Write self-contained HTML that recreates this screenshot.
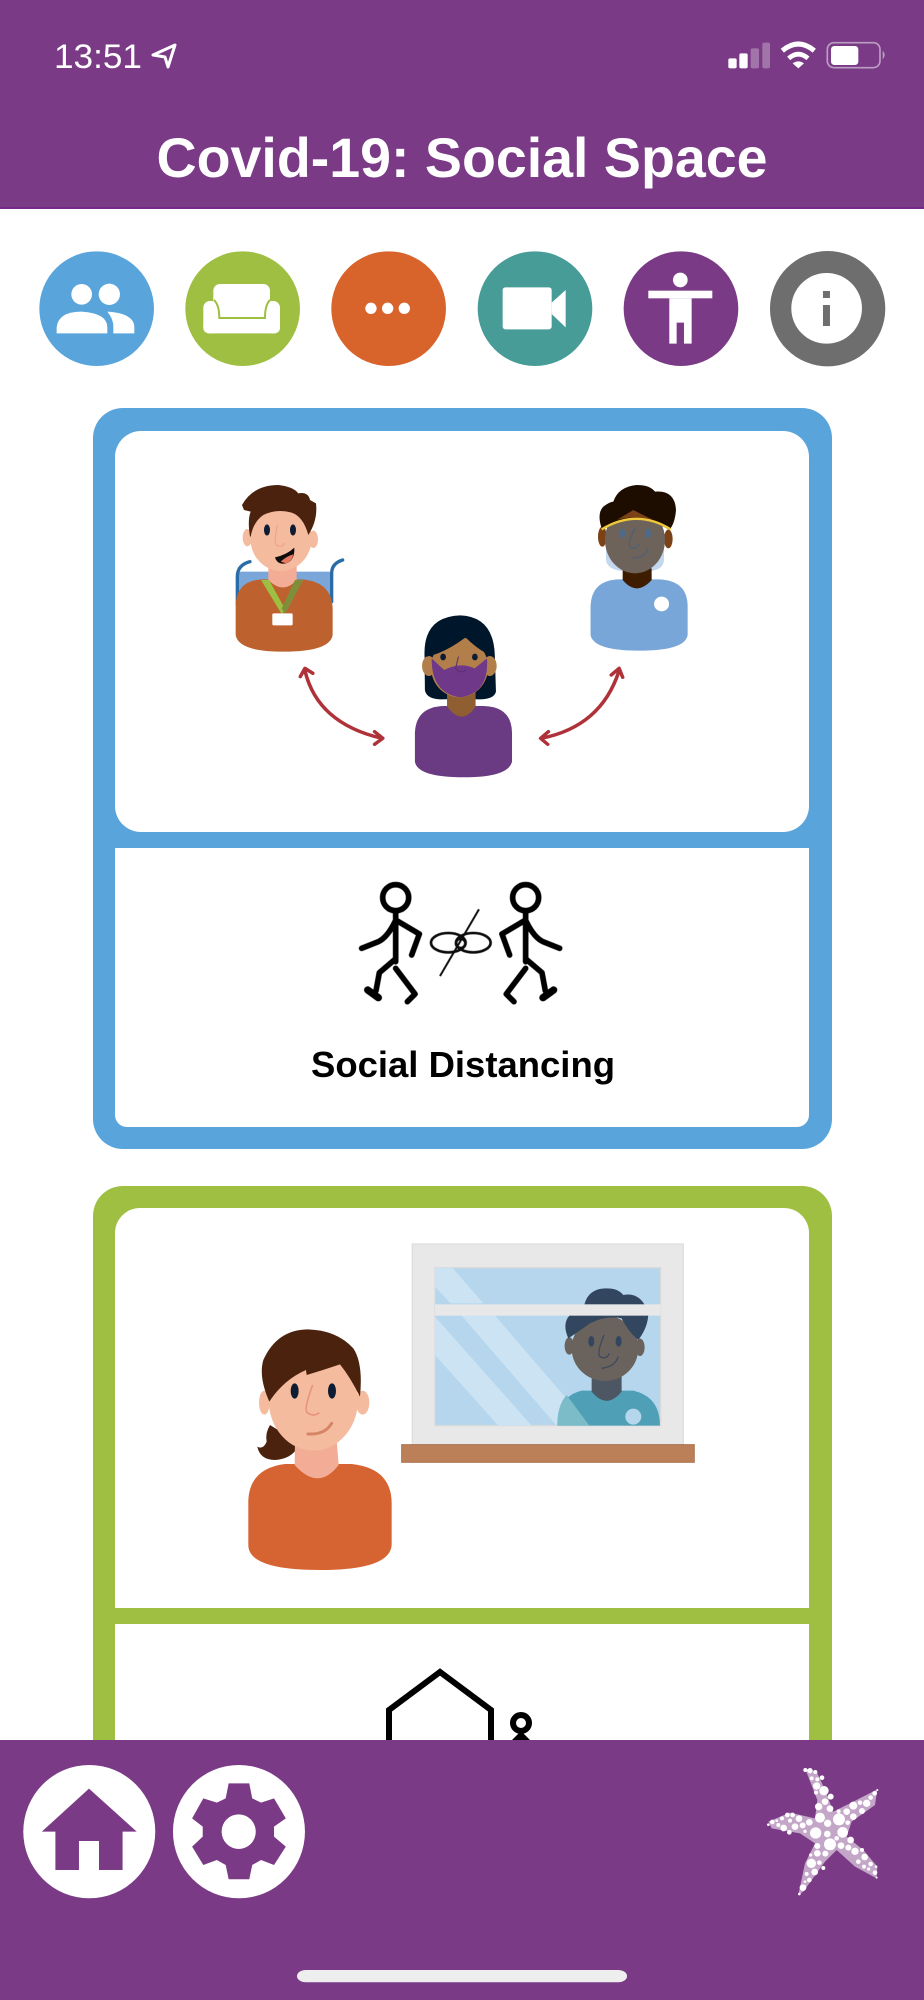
<!DOCTYPE html>
<html lang="en"><head><meta charset="utf-8"><title>Covid-19: Social Space</title>
<style>html,body{margin:0;padding:0;background:#fff;width:924px;height:2000px;overflow:hidden}svg{display:block}text{font-family:"Liberation Sans",sans-serif}</style></head>
<body>
<svg width="924" height="2000" viewBox="0 0 924 2000" xmlns="http://www.w3.org/2000/svg">
<defs><filter id="b" x="-5%" y="-5%" width="110%" height="110%"><feGaussianBlur stdDeviation="0.6"/></filter></defs>
<rect width="924" height="2000" fill="#fff"/>

<!-- Cards -->
<rect x="93" y="408" width="739" height="741" rx="30" fill="#59A5DB"/>
<rect x="115" y="431" width="694" height="401" rx="26" fill="#fff"/>
<path d="M115 848H809V1115a12 12 0 0 1-12 12H127a12 12 0 0 1-12-12Z" fill="#fff"/>
<path d="M93 1216a30 30 0 0 1 30-30H802a30 30 0 0 1 30 30V1760H93Z" fill="#9FBF42"/>
<path d="M115 1233a25 25 0 0 1 25-25H784a25 25 0 0 1 25 25V1608H115Z" fill="#fff"/>
<rect x="115" y="1624" width="694" height="130" fill="#fff"/>

<!-- Man in wheelchair -->
<g transform="translate(220 470) scale(.3333)" filter="url(#b)">
<rect x="55" y="305" width="280" height="100" rx="8" fill="#7AA6D9"/>
<path d="M90 275Q52 285 52 320V405M368 270Q335 280 335 310V395" fill="none" stroke="#2B6CA8" stroke-width="10" stroke-linecap="round"/>
<path d="M47 410Q47 330 130 328H245Q338 335 338 420V495Q330 545 190 545Q55 545 47 495Z" fill="#BD622D"/>
<path d="M145 285H230V330Q190 375 145 330Z" fill="#F3AC96"/>
<path d="M123 330H147L197 420L185 432Z" fill="#9DBF42"/><path d="M250 330H225L185 415L195 432Z" fill="#7F8E3A"/>
<rect x="157" y="430" width="61" height="36" rx="4" fill="#fff"/>
<ellipse cx="82" cy="203" rx="14" ry="26" fill="#F5BB9E"/><ellipse cx="280" cy="208" rx="14" ry="26" fill="#F5BB9E"/>
<ellipse cx="183" cy="205" rx="92" ry="98" fill="#F5BB9E"/>
<path d="M90 200Q82 150 92 125L72 120L66 105Q100 45 175 45Q220 50 235 70Q265 65 270 90L288 100Q294 150 265 195Q250 140 215 128Q170 115 130 135Q100 155 92 200Z" fill="#4B2310"/>
<ellipse cx="141" cy="180" rx="9" ry="17" fill="#0D1A33"/><ellipse cx="219" cy="180" rx="9" ry="17" fill="#0D1A33"/>
<path d="M173 165Q160 215 170 225Q185 235 195 218" fill="none" stroke="#EFA58D" stroke-width="4"/>
<path d="M165 262Q200 255 223 233Q225 272 198 280Q172 285 165 262Z" fill="#0C0C0C"/><path d="M182 275Q200 258 220 253Q218 272 198 280Z" fill="#E8785F"/>
</g>

<!-- Woman in mask, arrows -->
<g transform="translate(180 460) scale(.357 .3333)" filter="url(#b)">
<path d="M685 590Q680 470 785 466Q880 470 882 590L885 695Q880 720 830 718H740Q690 720 686 690Z" fill="#04152B"/>
<path d="M658 820Q660 740 740 738H850Q930 740 930 820V905Q920 952 795 952Q665 952 658 905Z" fill="#6B3A83"/>
<path d="M748 680H828V740Q790 800 748 740Z" fill="#8F5F33"/>
<ellipse cx="697" cy="618" rx="19" ry="30" fill="#B27F4B"/><ellipse cx="868" cy="618" rx="19" ry="30" fill="#B27F4B"/>
<ellipse cx="783" cy="622" rx="80" ry="90" fill="#B27F4B"/>
<path d="M690 590Q740 580 800 532Q840 575 880 590Q880 480 785 470Q690 480 690 590Z" fill="#04152B"/>
<path d="M705 595L740 630Q785 605 825 625L860 595Q866 700 785 712Q704 700 705 595Z" fill="#6F3888"/>
<ellipse cx="737" cy="591" rx="8" ry="10" fill="#0D1A33"/><ellipse cx="826" cy="591" rx="8" ry="10" fill="#0D1A33"/>
<path d="M780 590L772 625Q785 645 802 628" fill="none" stroke="#5D2F70" stroke-width="3"/>

<path d="M1150 440Q1152 360 1230 358H1340Q1422 360 1422 440V525Q1415 572 1287 572Q1158 572 1150 525Z" fill="#78A6D8"/>
<ellipse cx="1349" cy="432" rx="21" ry="22" fill="#fff"/>

<g fill="none" stroke="#AE3037" stroke-width="10" stroke-linecap="round" stroke-linejoin="round">
<path d="M350 632Q385 790 565 835"/><path d="M337 650L350 625L372 640"/><path d="M545 815L568 835L545 853"/>
<path d="M1230 632Q1180 800 1012 835"/><path d="M1208 645L1230 625L1240 652"/><path d="M1032 815L1010 835L1030 853"/>
</g>
</g>

<!-- Person with face shield -->
<g transform="translate(580 470) scale(.3333)" filter="url(#b)">
<path d="M78 180V270Q82 300 130 303H210Q250 300 252 270V180Z" fill="#C3D7EE"/>
<path d="M128 295H215V330Q170 380 128 330Z" fill="#3E1F05"/>
<ellipse cx="67" cy="200" rx="13" ry="30" fill="#7A4212"/><ellipse cx="265" cy="207" rx="13" ry="28" fill="#7A4212"/>
<ellipse cx="165" cy="210" rx="90" ry="100" fill="#6E635A"/>
<path d="M65 175Q50 130 70 110Q90 95 100 95Q115 50 170 45Q210 45 225 65Q285 60 288 120Q285 160 268 180Q170 120 65 175Z" fill="#1E0A00"/>
<path d="M110 150L160 120L220 150Q165 135 110 150Z" fill="#7A4212"/>
<path d="M65 178Q170 115 272 178" fill="none" stroke="#F0C93A" stroke-width="7"/>
<ellipse cx="128" cy="190" rx="8" ry="15" fill="#4D6A8C"/><ellipse cx="205" cy="190" rx="8" ry="15" fill="#4D6A8C"/>
<path d="M165 175Q140 220 152 232Q172 240 178 220M158 265Q195 262 205 235" fill="none" stroke="#4F5F74" stroke-width="4"/>
</g>

<!-- Social distancing symbol -->
<g transform="translate(300 860) scale(.3333)" filter="url(#b)">
<g fill="none" stroke="#000" stroke-width="17" stroke-linejoin="round" stroke-linecap="round">
<circle cx="287" cy="113" r="39"/>
<path d="M287 160V305M285 185Q262 232 235 245L185 265M287 180L358 222L335 285M285 298L238 338L228 392M287 325L345 402L322 425"/>
<path d="M203 390L235 413" stroke-width="22"/>
</g>
<g transform="translate(964 0) scale(-1 1)" fill="none" stroke="#000" stroke-width="17" stroke-linejoin="round" stroke-linecap="round">
<circle cx="287" cy="113" r="39"/>
<path d="M287 160V305M285 185Q262 232 235 245L185 265M287 180L358 222L335 285M285 298L238 338L228 392M287 325L345 402L322 425"/>
<path d="M203 390L235 413" stroke-width="22"/>
</g>
<g fill="none" stroke="#111" stroke-width="8"><ellipse cx="445" cy="248" rx="52" ry="29"/><ellipse cx="520" cy="248" rx="52" ry="29"/><circle cx="482" cy="250" r="14"/></g>
<path d="M537 148L420 348" stroke="#111" stroke-width="6"/>
</g>
<text x="311" y="1077" font-size="36" font-weight="700" textLength="304" lengthAdjust="spacingAndGlyphs" fill="#000">Social Distancing</text>

<!-- Second card illustration -->
<g transform="translate(220 1220) scale(.3333)" filter="url(#b)">
<rect x="577" y="72" width="813" height="602" fill="#E8E8E8" stroke="#DEDEDE" stroke-width="4"/>
<rect x="645" y="143" width="677" height="474" fill="#B5D6ED" stroke="#DADADA" stroke-width="4"/>
<path d="M645 143H697L790 250H692L645 200Z" fill="#CCE3F3"/>
<path d="M725 287H825L1110 617H1010Z" fill="#CCE3F3"/>
<path d="M645 290L935 617H835L645 405Z" fill="#CCE3F3"/>
<path d="M1012 617Q1012 530 1085 512H1240Q1320 530 1320 617Z" fill="#4FA0B6"/>
<path d="M1012 617Q1012 555 1040 525L1108 617Z" fill="#7BBCC8"/>
<ellipse cx="1240" cy="590" rx="24" ry="24" fill="#B5D6ED"/>
<path d="M1115 470H1205V515Q1160 570 1115 515Z" fill="#4D5763"/>
<ellipse cx="1048" cy="378" rx="14" ry="26" fill="#6B625C"/><ellipse cx="1260" cy="382" rx="14" ry="26" fill="#6B625C"/>
<ellipse cx="1155" cy="385" rx="100" ry="98" fill="#6B625C"/>
<path d="M1045 355Q1025 310 1050 285H1090Q1090 205 1160 205Q1195 205 1210 225Q1265 215 1285 280Q1285 320 1255 360Q1225 335 1205 295Q1160 285 1110 310Q1075 335 1045 355Z" fill="#31465F"/>
<ellipse cx="1114" cy="364" rx="9" ry="16" fill="#31465F"/><ellipse cx="1196" cy="364" rx="9" ry="16" fill="#31465F"/>
<path d="M1152 345Q1130 400 1140 410Q1160 420 1168 400M1145 445Q1185 440 1195 410" fill="none" stroke="#3D4A5B" stroke-width="4"/>
<rect x="645" y="253" width="677" height="34" fill="#E8E8E8"/>
<rect x="545" y="674" width="878" height="53" fill="#BB8058" stroke="#A9714E" stroke-width="3"/>

<path d="M150 615Q135 640 140 665Q130 690 112 680Q120 720 165 720Q210 718 232 685L190 640Z" fill="#4B2310"/>
<ellipse cx="133" cy="548" rx="16" ry="36" fill="#F5BB9E"/><ellipse cx="428" cy="548" rx="20" ry="36" fill="#F5BB9E"/>
<path d="M85 840Q90 745 195 732H395Q515 745 515 850V975Q510 1050 300 1050Q85 1050 85 975Z" fill="#D66430"/>
<path d="M224 735Q295 815 356 735L350 660H225Z" fill="#F3AC96"/>
<ellipse cx="280" cy="540" rx="134" ry="152" fill="#F5BB9E"/>
<path d="M148 545Q115 470 130 420Q170 330 262 328Q350 330 400 385Q430 430 420 530Q390 470 360 433Q310 450 260 465L258 450Q190 480 148 545Z" fill="#4B2310"/>
<ellipse cx="224" cy="513" rx="12" ry="23" fill="#0D1A33"/><ellipse cx="336" cy="513" rx="12" ry="23" fill="#0D1A33"/>
<path d="M278 495Q250 570 262 578Q280 592 298 578" fill="none" stroke="#E8947A" stroke-width="5"/>
<path d="M264 642Q315 645 335 610" fill="none" stroke="#D58566" stroke-width="9" stroke-linecap="round"/>
</g>

<!-- Cut off symbol -->
<g fill="none" stroke="#000" stroke-width="6" stroke-linejoin="miter">
<path d="M389 1742V1710L440 1672L491 1710V1742"/>
<circle cx="521" cy="1723" r="8"/>
</g>
<path d="M521 1731L510 1742H532Z" fill="#000"/>

<!-- Header -->
<rect width="924" height="208" fill="#7A3A86"/>
<rect y="207" width="924" height="2" fill="#74298A"/>
<text x="54" y="68" font-size="34" fill="#fff" textLength="88" lengthAdjust="spacingAndGlyphs">13:51</text>
<path d="M175 45L153 55L165 57L168 67Z" fill="none" stroke="#fff" stroke-width="3" stroke-linejoin="round"/>
<g transform="translate(700 30) scale(.3333)">
<g fill="#fff">
<rect x="85" y="85" width="25" height="30" rx="5"/><rect x="118" y="70" width="25" height="45" rx="5"/>
<rect x="152" y="55" width="25" height="60" rx="5" opacity=".3"/><rect x="187" y="38" width="23" height="77" rx="5" opacity=".3"/>
<path d="M278 100Q295 88 312 100L295 115Z"/>
<rect x="393" y="48" width="82" height="57" rx="10"/><path d="M548 62Q560 75 548 88Z" opacity=".5"/>
</g>
<g fill="none" stroke="#fff">
<path d="M247 62Q295 22 343 62" stroke-width="15"/><path d="M266 85Q295 60 324 85" stroke-width="14"/>
<rect x="382" y="38" width="158" height="75" rx="20" stroke-width="5" opacity=".5"/>
</g>
</g>
<text x="462" y="177" font-size="56" font-weight="700" text-anchor="middle" fill="#fff" textLength="611" lengthAdjust="spacingAndGlyphs">Covid-19: Social Space</text>

<!-- Top icon row -->
<g transform="translate(30 240) scale(.3333)">
<circle cx="200" cy="206" r="172" fill="#59A5DB"/>
<circle cx="638" cy="206" r="172" fill="#9FBF42"/>
<circle cx="1076" cy="206" r="172" fill="#D8632B"/>
<g fill="#fff">
<circle cx="155" cy="163" r="31"/><circle cx="238" cy="163" r="32"/>
<path d="M80 280V262Q85 215 155 215Q232 220 232 262V280Z"/><path d="M250 280V255Q248 235 232 215Q313 220 313 262V280Z"/>
<rect x="550" y="132" width="170" height="100" rx="20"/>
<rect x="520" y="183" width="45" height="97" rx="20"/><rect x="705" y="183" width="45" height="97" rx="20"/>
<rect x="520" y="236" width="230" height="44" rx="16"/>
<rect x="560" y="190" width="150" height="46"/>
<path d="M552 180Q568 195 568 234H705Q705 195 720 180" fill="none" stroke="#9FBF42" stroke-width="6"/>
<circle cx="1023" cy="205" r="17"/><circle cx="1073" cy="205" r="17"/><circle cx="1123" cy="205" r="17"/>
</g>
</g>
<g transform="translate(460 240) scale(.3333)">
<circle cx="225" cy="206" r="172" fill="#479C98"/>
<circle cx="663" cy="206" r="172" fill="#7A3A86"/>
<circle cx="1103" cy="206" r="173" fill="#6E6E6E"/>
<g fill="#fff">
<rect x="128" y="142" width="147" height="126" rx="8"/><path d="M275 188L317 150V262L275 222Z"/>
<circle cx="661" cy="120" r="22"/><rect x="565" y="152" width="192" height="23"/>
<path d="M628 175H695V311H672V248H650V311H628Z"/>
<circle cx="1100" cy="205" r="106"/>
<rect x="1089" y="153" width="21" height="21" fill="#6E6E6E"/><rect x="1089" y="195" width="21" height="63" fill="#6E6E6E"/>
</g>
</g>

<!-- Footer -->
<rect y="1740" width="924" height="260" fill="#7A3A86"/>
<g transform="translate(0 1640) scale(.5893 .3333)">
<ellipse cx="151.5" cy="575" rx="112" ry="200" fill="#fff"/><ellipse cx="405.5" cy="575" rx="112" ry="200" fill="#fff"/>
<path d="M151 446L232 575H208V690H168V603H134V690H94V575H71Z" fill="#7A3A86"/>
<path fill-rule="evenodd" d="M388 430H423L428 475L443 488L465 475L485 535L465 560V590L485 620L465 675L443 660L428 675L423 718H388L383 675L368 660L345 675L326 620L344 590V560L326 535L345 475L368 488L383 475ZM405 523A29 52 0 1 0 405.1 627A29 52 0 1 0 405 523Z" fill="#7A3A86"/>
<rect x="504" y="990" width="560" height="37" rx="15" ry="18" fill="#EEE"/>
</g>

<!-- Starfish -->
<g transform="translate(740 1750) scale(.3333)" fill="#fff" filter="url(#b)">
<path d="M195 55L230 65L255 120L280 185L340 155L412 118L405 165L335 215L320 260L370 300L412 350L410 385L345 350L290 300L255 335L190 425L175 435L195 340L225 280L180 250L95 235L85 215L150 188L225 205L232 150Z" opacity=".55"/>
<circle cx="196" cy="60" r="6"/><circle cx="210" cy="62" r="8"/><circle cx="226" cy="66" r="6"/><circle cx="215" cy="85" r="6"/><circle cx="232" cy="88" r="6"/><circle cx="246" cy="83" r="7"/><circle cx="230" cy="108" r="11"/><circle cx="252" cy="122" r="14"/><circle cx="228" cy="128" r="6"/><circle cx="272" cy="140" r="9"/><circle cx="255" cy="155" r="10"/><circle cx="236" cy="170" r="11"/><circle cx="270" cy="176" r="10"/><circle cx="240" cy="203" r="15"/><circle cx="297" cy="208" r="18"/><circle cx="263" cy="220" r="11"/><circle cx="227" cy="249" r="17"/><circle cx="262" cy="252" r="10"/><circle cx="308" cy="247" r="16"/><circle cx="270" cy="283" r="18"/><circle cx="232" cy="288" r="9"/><circle cx="290" cy="265" r="7"/><circle cx="296" cy="184" r="6"/><circle cx="320" cy="185" r="10"/><circle cx="340" cy="167" r="12"/><circle cx="340" cy="200" r="10"/><circle cx="366" cy="183" r="9"/><circle cx="360" cy="158" r="7"/><circle cx="380" cy="160" r="11"/><circle cx="392" cy="143" r="7"/><circle cx="404" cy="130" r="7"/><circle cx="412" cy="120" r="3"/><circle cx="323" cy="218" r="7"/>
<circle cx="208" cy="217" r="10"/><circle cx="177" cy="206" r="10"/><circle cx="188" cy="226" r="9"/><circle cx="165" cy="230" r="10"/><circle cx="158" cy="195" r="7"/><circle cx="142" cy="195" r="7"/><circle cx="150" cy="212" r="6"/><circle cx="131" cy="234" r="10"/><circle cx="126" cy="205" r="6"/><circle cx="115" cy="225" r="6"/><circle cx="97" cy="216" r="7"/><circle cx="148" cy="247" r="7"/><circle cx="195" cy="244" r="5"/><circle cx="85" cy="224" r="4"/><circle cx="110" cy="212" r="4"/>
<circle cx="232" cy="310" r="10"/><circle cx="256" cy="311" r="9"/><circle cx="214" cy="340" r="14"/><circle cx="238" cy="338" r="7"/><circle cx="250" cy="354" r="6"/><circle cx="224" cy="366" r="10"/><circle cx="200" cy="372" r="6"/><circle cx="208" cy="390" r="7"/><circle cx="189" cy="413" r="10"/><circle cx="178" cy="432" r="4"/><circle cx="195" cy="395" r="4"/><circle cx="212" cy="315" r="5"/>
<circle cx="332" cy="270" r="10"/><circle cx="303" cy="287" r="10"/><circle cx="325" cy="293" r="9"/><circle cx="345" cy="304" r="11"/><circle cx="374" cy="321" r="10"/><circle cx="366" cy="300" r="6"/><circle cx="355" cy="335" r="7"/><circle cx="372" cy="350" r="6"/><circle cx="392" cy="342" r="7"/><circle cx="386" cy="357" r="5"/><circle cx="405" cy="368" r="7"/><circle cx="408" cy="350" r="4"/><circle cx="410" cy="383" r="3"/>
</g>
</svg>
</body></html>
